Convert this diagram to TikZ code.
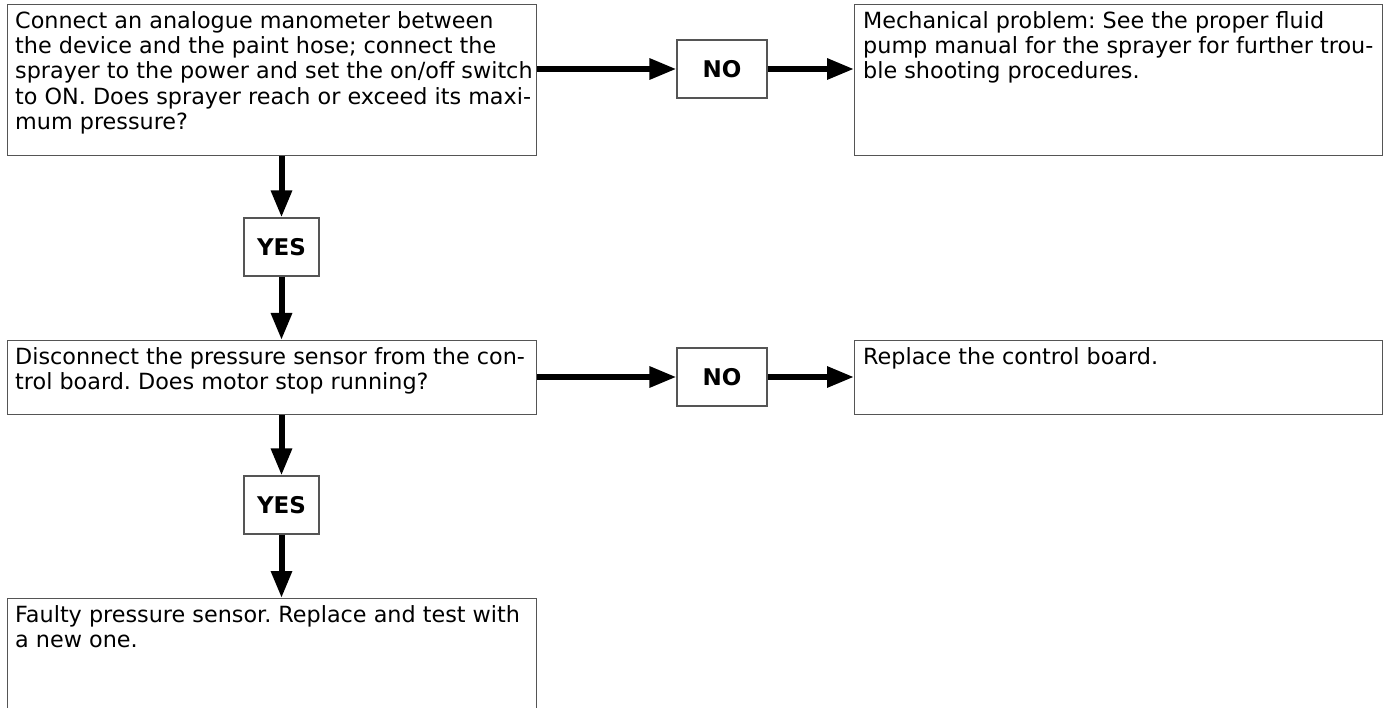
\documentclass[tikz,border=0pt]{standalone}
\usepackage{fontspec}
\setmainfont{DejaVu Sans}
\usetikzlibrary{arrows.meta}
\definecolor{boxgray}{RGB}{85,85,85}
\frenchspacing
\begin{document}
\begin{tikzpicture}[x=1pt,y=-1pt,
  box/.style={draw=boxgray, line width=1.2pt, inner sep=0pt, anchor=north west},
  tag/.style={draw=boxgray, line width=1.2pt, inner sep=0pt, minimum width=#1, minimum height=58pt, font=\fontsize{23}{25}\selectfont\bfseries},
  txt/.style={anchor=north west, inner sep=0pt, align=left, font=\fontsize{22.3}{25.3}\selectfont\frenchspacing},
  arr/.style={line width=6pt, -{Triangle[length=27pt,width=20pt]}}
]
\useasboundingbox (0,0) rectangle (1389,708);
% main boxes
\node[box, minimum width=529pt, minimum height=151pt] (A) at (7,4) {};
\node[box, minimum width=528pt, minimum height=151pt] (B) at (854,4) {};
\node[box, minimum width=529pt, minimum height=74pt] (C) at (7,340) {};
\node[box, minimum width=528pt, minimum height=74pt] (D) at (854,340) {};
\node[box, minimum width=529pt, minimum height=160pt] (E) at (7,598) {};
% decision tags
\node[tag=90pt] (N1) at (722,69) {NO};
\node[tag=90pt] (N2) at (722,377) {NO};
\node[tag=75pt] (Y1) at (281.5,247) {YES};
\node[tag=75pt] (Y2) at (281.5,505) {YES};
% texts
\node[txt] (At) at ([xshift=8pt,yshift=-7pt]A.north west) {Connect an analogue manometer between\\the device and the paint hose; connect the\\sprayer to the power and set the on/off switch\\to ON. Does sprayer reach or exceed its maxi-\\mum pressure?};
\node[txt] (Bt) at ([xshift=9pt,yshift=-7pt]B.north west) {Mechanical problem: See the proper fluid\\pump manual for the sprayer for further trou-\\ble shooting procedures.};
\node[txt] (Ct) at ([xshift=8pt,yshift=-7pt]C.north west) {Disconnect the pressure sensor from the con-\\trol board. Does motor stop running?};
\node[txt] (Dt) at ([xshift=9pt,yshift=-7pt]D.north west) {Replace the control board.};
\node[txt] (Et) at ([xshift=8pt,yshift=-7pt]E.north west) {Faulty pressure sensor. Replace and test with\\a new one.};
% connectors
\draw[arr] (A.east |- N1.west) -- (N1.west);
\draw[arr] (N1.east) -- (N1.east -| B.west);
\draw[arr] (A.south -| Y1.north) -- (Y1.north);
\draw[arr] (Y1.south) -- (Y1.south |- C.north);
\draw[arr] (C.east |- N2.west) -- (N2.west);
\draw[arr] (N2.east) -- (N2.east -| D.west);
\draw[arr] (C.south -| Y2.north) -- (Y2.north);
\draw[arr] (Y2.south) -- (Y2.south |- E.north);
\end{tikzpicture}
\end{document}
